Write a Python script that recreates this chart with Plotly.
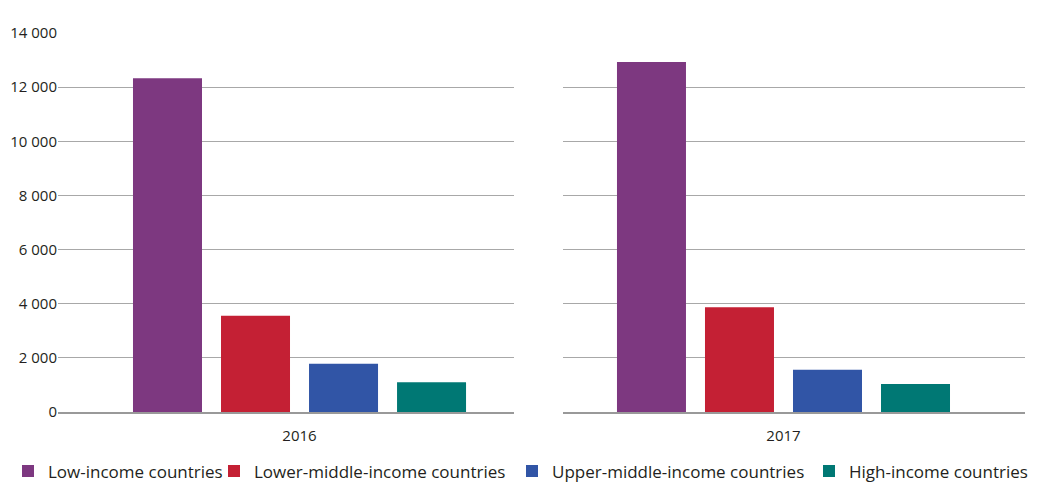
import plotly.graph_objects as go
from plotly.subplots import make_subplots

years = ["2016", "2017"]
groups = [
    "Low-income countries",
    "Lower-middle-income countries",
    "Upper-middle-income countries",
    "High-income countries",
]
colors = ["#7d3880", "#c42034", "#3155a6", "#007874"]
values_2016 = [12330, 3560, 1780, 1100]
values_2017 = [12930, 3870, 1560, 1030]
values = [values_2016, values_2017]

# one legend per entry so each can sit where the original puts it
legend_ids = ["legend", "legend2", "legend3", "legend4"]
legend_x = [8, 214, 512, 809]

fig = make_subplots(rows=1, cols=2, shared_yaxes=True)

for col, (year, vals) in enumerate(zip(years, values), start=1):
    for name, color, v, lg in zip(groups, colors, vals, legend_ids):
        fig.add_trace(
            go.Bar(
                x=[year],
                y=[v],
                name=name,
                marker=dict(color=color, line=dict(width=0)),
                legendgroup=name,
                legend=lg,
                showlegend=(col == 1),
            ),
            row=1,
            col=col,
        )

# the page body adds an 8px offset, so the figure is 8px smaller
OFF = 8
W, H = 1037 - OFF, 493 - OFF
legends = {}
for lg, lx in zip(legend_ids, legend_x):
    legends[lg] = dict(
        orientation="h",
        xref="container",
        yref="container",
        x=(lx - OFF) / W,
        y=1 - (471.5 - OFF) / H,
        xanchor="left",
        yanchor="middle",
        font=dict(size=17),
        itemwidth=30,
        bgcolor="rgba(0,0,0,0)",
    )

fig.update_layout(
    width=W,
    height=H,
    barmode="group",
    bargap=0.228,
    bargroupgap=0.216,
    separators=", ",
    plot_bgcolor="white",
    paper_bgcolor="white",
    font=dict(family="Open Sans, sans-serif", size=15, color="#231f20"),
    margin=dict(l=58 - OFF, r=12, t=33 - OFF, b=H - (412 - OFF), autoexpand=False),
    xaxis=dict(domain=[0, 0.4716], range=[-0.5296, 0.4704]),
    xaxis2=dict(domain=[0.5222, 1], range=[-0.4836, 0.5296]),
    **legends,
)
fig.update_xaxes(
    showgrid=False,
    showline=True,
    linecolor="#999999",
    linewidth=2,
    ticks="",
    ticklabelstandoff=9,
    automargin=False,
    tickfont=dict(size=15),
)
fig.update_yaxes(
    range=[0, 14000],
    dtick=2000,
    showgrid=True,
    gridcolor="#a8a8a8",
    gridwidth=1,
    zeroline=False,
    showline=False,
    ticks="",
    automargin=False,
    tickformat=",d",
    tickfont=dict(size=15),
)

fig.write_html("out.html")
